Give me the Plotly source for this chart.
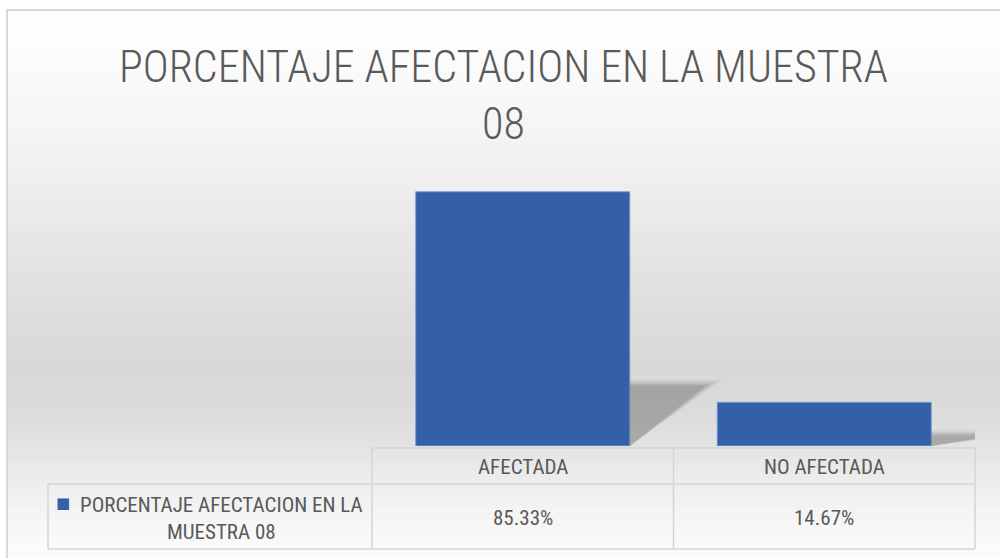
import plotly.graph_objects as go

# Chart data
categories = ["AFECTADA", "NO AFECTADA"]
values = [85.33, 14.67]
series_name = "PORCENTAJE AFECTACION EN LA MUESTRA 08"
title_text = "PORCENTAJE AFECTACION EN LA MUESTRA<br>08"

W, H = 1000, 558
FONT = "Roboto Condensed, Carlito, sans-serif"
TEXT = "#595959"
BAR = "#3461a6"
GRID = "#d4d4d4"

# plot area in pixels (left, right, top of 100%, baseline)
PX_L, PX_R, PX_T, PX_B = 372, 975, 148, 446
BAR_W = 0.71


def px(x):
    return x / W


def py(y):
    return 1 - y / H


fig = go.Figure()

# soft perspective shadow to the right of each bar
for i, v in enumerate(values):
    xr = i + BAR_W / 2
    top = v * 0.237
    for k, alpha in enumerate([0.03, 0.04, 0.05, 0.06, 0.07, 0.08, 0.08]):
        grow = (6 - k) * 0.01
        fig.add_trace(go.Scatter(
            x=[xr, xr + 0.25 + grow, xr, xr],
            y=[0, top + grow * 35, top + grow * 35, 0],
            fill="toself", mode="lines", line=dict(width=0),
            fillcolor=f"rgba(70,70,70,{alpha})",
            hoverinfo="skip", showlegend=False,
        ))

fig.add_trace(go.Bar(
    x=list(range(len(categories))), y=values, width=BAR_W,
    name=series_name,
    marker=dict(color=BAR, line=dict(color="rgba(120,155,215,0.9)", width=1)),
    showlegend=False, hoverinfo="skip",
))

shapes = []

# vertical background gradient (white -> grey -> white)
stops = [(0, 255), (40, 253), (120, 246), (200, 236), (300, 223), (370, 216),
         (420, 220), (470, 234), (520, 246), (558, 252)]


def shade(y):
    for (y0, c0), (y1, c1) in zip(stops, stops[1:]):
        if y0 <= y <= y1:
            return c0 + (c1 - c0) * (y - y0) / (y1 - y0)
    return stops[-1][1]


step = 6
for y in range(10, H, step):
    c = int(round(shade(y + step / 2)))
    shapes.append(dict(type="rect", xref="paper", yref="paper", layer="below",
                       x0=px(7), x1=1, y0=py(min(y + step, H)), y1=py(y),
                       line=dict(width=0), fillcolor=f"rgb({c},{c},{c})"))

# chart frame
shapes.append(dict(type="rect", xref="paper", yref="paper", layer="above",
                   x0=px(7), x1=1.01, y0=-0.01, y1=py(10),
                   line=dict(color="#d9d9d9", width=2), fillcolor="rgba(0,0,0,0)"))

# data table grid
col_edges = [PX_L, (PX_L + PX_R) / 2, PX_R]
row_top, row_mid, row_bot, leg_left = 448, 484, 549, 48


def hline(y, x0, x1):
    shapes.append(dict(type="line", xref="paper", yref="paper",
                       x0=px(x0), x1=px(x1), y0=py(y), y1=py(y),
                       line=dict(color=GRID, width=1.5)))


def vline(x, y0, y1):
    shapes.append(dict(type="line", xref="paper", yref="paper",
                       x0=px(x), x1=px(x), y0=py(y0), y1=py(y1),
                       line=dict(color=GRID, width=1.5)))


hline(row_top, PX_L, PX_R)
hline(row_mid, leg_left, PX_R)
hline(row_bot, leg_left, PX_R)
for xe in col_edges:
    vline(xe, row_top, row_bot)
vline(leg_left, row_mid, row_bot)

TBL = dict(family=FONT, size=21, color=TEXT, weight=400)

annotations = []
for i, (cat, v) in enumerate(zip(categories, values)):
    cx = (col_edges[i] + col_edges[i + 1]) / 2
    annotations.append(dict(x=px(cx), y=py((row_top + row_mid) / 2 + 1), xref="paper", yref="paper",
                            text=cat, showarrow=False, xanchor="center", yanchor="middle",
                            font=TBL))
    annotations.append(dict(x=px(cx), y=py((row_mid + row_bot) / 2 + 1), xref="paper", yref="paper",
                            text=f"{v:.2f}%", showarrow=False, xanchor="center", yanchor="middle",
                            font=TBL))

# legend key cell: series name wrapped on two lines with its colour key
words = series_name.split(" ")
line1 = " ".join(words[:4])
line2 = " ".join(words[4:])
annotations.append(dict(x=px(221), y=py((row_mid + row_bot) / 2 + 2),
                        xref="paper", yref="paper", showarrow=False,
                        xanchor="center", yanchor="middle", align="center",
                        text=f"{line1}<br>{line2}", font=TBL))
annotations.append(dict(x=px(63), y=py(503), xref="paper", yref="paper", showarrow=False,
                        xanchor="center", yanchor="middle", text="■",
                        font=dict(family="DejaVu Sans", size=15, color=BAR)))

# title
annotations.append(dict(x=px(503), y=py(95), xref="paper", yref="paper",
                        text=title_text, showarrow=False, xanchor="center", yanchor="middle",
                        align="center", font=dict(family=FONT, size=44, color=TEXT, weight=300)))

fig.update_layout(
    width=W, height=H, margin=dict(l=0, r=0, t=0, b=0),
    paper_bgcolor="white", plot_bgcolor="rgba(0,0,0,0)",
    xaxis=dict(domain=[px(PX_L), px(PX_R)], range=[-0.5, len(categories) - 0.5],
               visible=False, fixedrange=True),
    yaxis=dict(domain=[py(PX_B), py(PX_T)], range=[0, 100], visible=False, fixedrange=True),
    shapes=shapes, annotations=annotations, showlegend=False,
)

fig.write_html("out.html")
